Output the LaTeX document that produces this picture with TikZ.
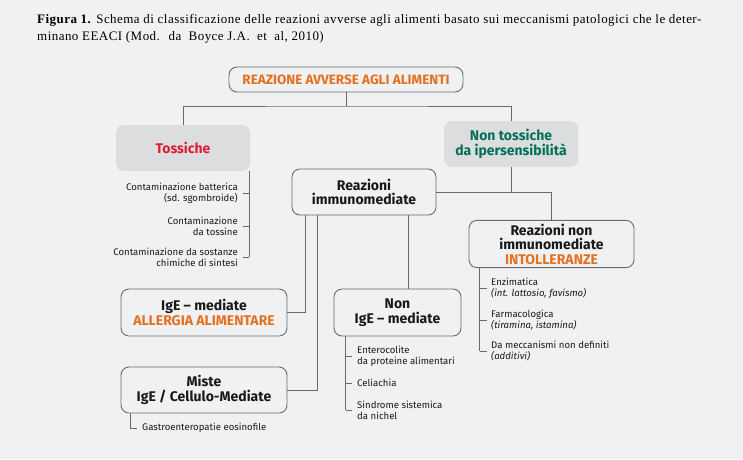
\documentclass[tikz,border=0pt]{standalone}
\usepackage{fontspec}
\setmainfont{Liberation Serif}
\setsansfont{Fira Sans}
\usetikzlibrary{positioning}
\definecolor{bgcol}{RGB}{240,241,243}
\definecolor{boxgray}{RGB}{220,221,223}
\definecolor{linegray}{RGB}{105,106,110}
\definecolor{alertorange}{RGB}{228,112,32}
\definecolor{toxred}{RGB}{220,30,50}
\definecolor{darkgreen}{RGB}{0,112,90}

\begin{document}
\begin{tikzpicture}[x=1pt,y=-1pt,font=\sffamily]
	
	\tikzstyle{whitebox}=[draw=linegray,line width=0.9pt,rounded corners=8pt,align=center,text=black!90,
	font=\sffamily\bfseries\fontsize{14}{14.5}\selectfont]
	\tikzstyle{greybox}=[whitebox,draw=none,fill=boxgray]
	\tikzstyle{item}=[inner sep=0pt,text=black!90,font=\sffamily\fontsize{9.6}{11}\selectfont]
	\tikzstyle{conn}=[draw=linegray,line width=0.8pt]
	
	\fill[bgcol] (0,0) rectangle (743,459);
	\useasboundingbox (0,0) rectangle (743,459);
	
	\node[anchor=north west,align=left,inner sep=0pt,font=\rmfamily\fontsize{13}{17}\selectfont\addfontfeature{LetterSpace=3.5}] (caption) at (37,14.5)
	{\textbf{Figura 1.} Schema di classificazione delle reazioni avverse agli alimenti basato sui meccanismi patologici che le deter-\\minano EEACI (Mod.~ da~ Boyce J.A.~ et~ al, 2010)};
	
	% main boxes
	\node[whitebox,minimum width=234pt,minimum height=25pt,text=alertorange,font=\sffamily\bfseries\fontsize{13.5}{14.5}\selectfont] (top) at (346,79.5) {REAZIONE AVVERSE AGLI ALIMENTI};
	\node[greybox,minimum width=134pt,minimum height=46pt,text=toxred] (toss) at (183,148) {Tossiche};
	\node[greybox,minimum width=134pt,minimum height=46pt,text=darkgreen] (nontox) at (511,144) {Non tossiche\\da ipersensibilità};
	\node[whitebox,minimum width=144pt,minimum height=46pt] (immuno) at (364,192) {Reazioni\\immunomediate};
	\node[whitebox,minimum width=165pt,minimum height=46pt] (nonimm) at (551.5,244) {Reazioni non\\immunomediate\\\textcolor{alertorange}{INTOLLERANZE}};
	\node[whitebox,minimum width=166pt,minimum height=47pt] (ige) at (204,312.5) {IgE -- mediate\\\textcolor{alertorange}{ALLERGIA ALIMENTARE}};
	\node[whitebox,minimum width=166pt,minimum height=46pt] (miste) at (204,390) {Miste\\IgE / Cellulo-Mediate};
	\node[whitebox,minimum width=127pt,minimum height=47pt] (nonige) at (397.5,312.5) {Non\\IgE -- mediate};
	
	% tree
	\coordinate (split) at (346,106);
	\draw[conn] (top) -- (split);
	\draw[conn] (toss.north) |- (split) -| (nontox.north);
	\draw[conn] (nontox.south) -- (nontox.south |- immuno.east);
	\draw[conn] (immuno.east) -| (nonimm.north);
	\draw[conn] ([xshift=-59pt]immuno.south) |- (ige.east);
	\draw[conn] ([xshift=-47pt]immuno.south) |- (miste.east);
	\draw[conn] ([xshift=44pt]immuno.south) -- ([xshift=44pt]immuno.south |- nonige.north);
	
	% Tossiche list
	\node[item,anchor=east,align=right] (t1) at (238,193) {Contaminazione batterica\\(sd. sgombroide)};
	\node[item,anchor=east,align=right] (t2) at (238,226) {Contaminazione\\da tossine};
	\node[item,anchor=east,align=right] (t3) at (238,257) {Contaminazione da sostanze\\chimiche di sintesi};
	\coordinate (tspine) at ([xshift=-1pt]toss.south east);
	\draw[conn] (tspine) -- (tspine |- t3.east);
	\foreach \i in {1,2,3}
		\draw[conn] (tspine |- t\i.east) -- ([xshift=5pt]t\i.east);
	
	% Non IgE list
	\node[item,anchor=west,align=left] (n1) at (357,356) {Enterocolite\\da proteine alimentari};
	\node[item,anchor=west,align=left] (n2) at (357,383) {Celiachia};
	\node[item,anchor=west,align=left] (n3) at (357,410) {Sindrome sistemica\\da nichel};
	\coordinate (nspine) at ([xshift=12pt]nonige.south west);
	\draw[conn] (nspine) -- (nspine |- n3.west);
	\foreach \i in {1,2,3}
		\draw[conn] (nspine |- n\i.west) -- ([xshift=-5pt]n\i.west);
	
	% intolleranze list
	\node[item,anchor=west,align=left] (r1) at (491,288) {Enzimatica\\\textit{(int. lattosio, favismo)}};
	\node[item,anchor=west,align=left] (r2) at (491,320) {Farmacologica\\\textit{(tiramina, istamina)}};
	\node[item,anchor=west,align=left] (r3) at (491,351) {Da meccanismi non definiti\\\textit{(additivi)}};
	\coordinate (rspine) at ([xshift=11pt]nonimm.south west);
	\draw[conn] (rspine) -- (rspine |- r3.west);
	\foreach \i in {1,2,3}
		\draw[conn] (rspine |- r\i.west) -- ([xshift=-4pt]r\i.west);
	
	% miste list
	\node[item,anchor=west] (m1) at (142,428) {Gastroenteropatie eosinofile};
	\coordinate (mspine) at ([xshift=10pt]miste.south west);
	\draw[conn] (mspine) |- ([xshift=-5pt]m1.west);
	
\end{tikzpicture}
\end{document}
